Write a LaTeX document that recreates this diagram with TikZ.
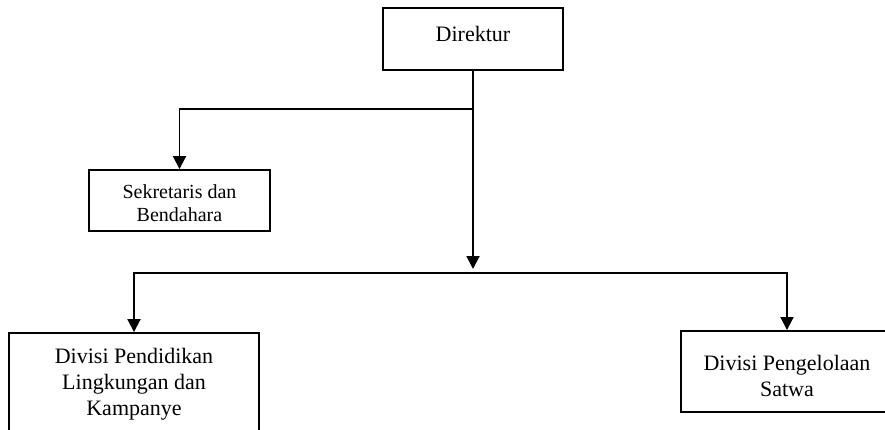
\documentclass[tikz,border=0pt]{standalone}
\usepackage{fontspec}
\setmainfont{Liberation Serif}
\usetikzlibrary{arrows.meta,positioning}

\begin{document}
\begin{tikzpicture}[x=1pt, y=-1pt,
    box/.style={draw, line width=1.9pt, align=center, inner sep=0pt,
        font=\fontsize{22}{26}\selectfont},
    conn/.style={line width=1.9pt},
    arr/.style={conn, -{Triangle[length=13pt, width=13pt]}}]
    \useasboundingbox (0,0) rectangle (885,430);

    % Direktur
    \node[box, minimum width=180pt, minimum height=62pt, text depth=11pt] (dir) at (473, 39) {Direktur};

    % Sekretaris dan Bendahara
    \node[box, minimum width=181pt, minimum height=61pt, font=\fontsize{20}{23}\selectfont] (sek) at (179.5, 200.5)
        {\rule{0pt}{20pt}Sekretaris dan\\Bendahara};

    % Divisi
    \node[box, minimum width=250pt, minimum height=103pt] (pend) at (134, 384.5)
        {Divisi Pendidikan\\Lingkungan dan\\Kampanye};
    \node[box, minimum width=212pt, minimum height=81pt] (satwa) at (787, 371.5)
        {\rule{0pt}{24.5pt}Divisi Pengelolaan\\Satwa};

    % Connectors
    \coordinate (split) at (473, 109);
    \coordinate (stemend) at (473, 269);
    \coordinate (bus) at (473, 273);
    \draw[arr] (dir.south) -- (stemend);
    \draw[arr] (split) -| (sek.north);
    \draw[arr] (bus) -| (pend.north);
    \draw[arr] (bus) -| (satwa.north);
\end{tikzpicture}
\end{document}
